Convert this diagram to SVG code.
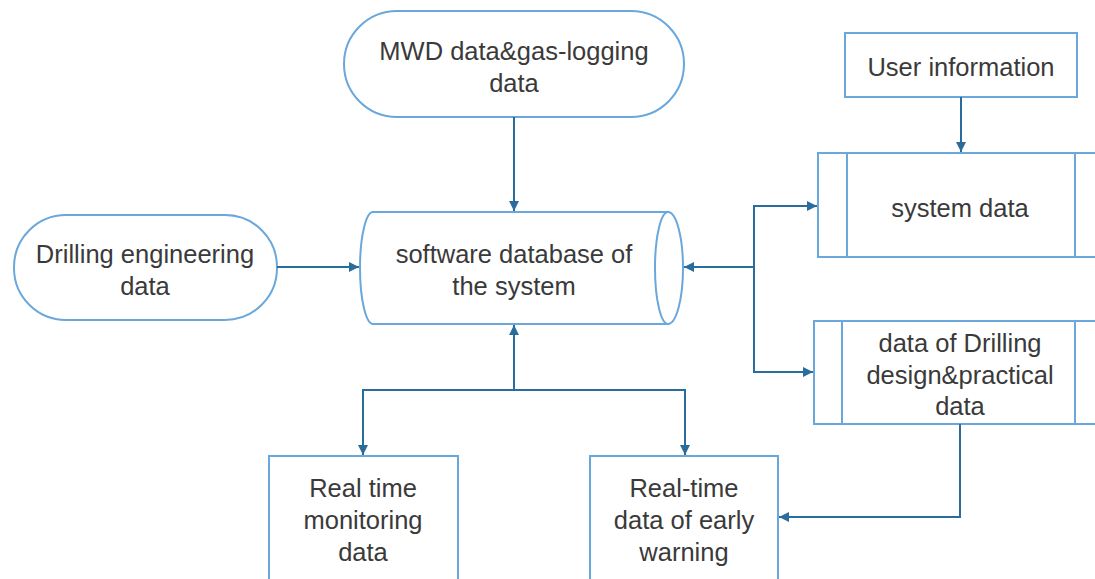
<svg xmlns="http://www.w3.org/2000/svg" width="1095" height="579" viewBox="0 0 1095 579">
  <defs>
    <marker id="arrow" viewBox="0 0 10 10" refX="10" refY="5" markerWidth="10" markerHeight="10" markerUnits="userSpaceOnUse" orient="auto">
      <path d="M0,0 L10,5 L0,10 Z" fill="#2a6d9c"/>
    </marker>
    <style>
      .node { fill: #ffffff; stroke: #6aa7dc; stroke-width: 2; }
      .conn { fill: none; stroke: #2a6d9c; stroke-width: 2; }
      .label { font-family: "Liberation Sans", Arial, sans-serif; font-size: 25.5px; fill: #3a3a3a; text-anchor: middle; }
    </style>
  </defs>
  <rect width="1095" height="579" fill="#ffffff"/>

  <g id="mwd-data">
    <rect class="node" x="344" y="11" width="340" height="106" rx="53" ry="53"/>
    <text class="label" x="514" y="60">MWD data&amp;gas-logging</text>
    <text class="label" x="514" y="92">data</text>
  </g>

  <g id="drilling-engineering">
    <rect class="node" x="14" y="215" width="263" height="105" rx="52" ry="52"/>
    <text class="label" x="145" y="263">Drilling engineering</text>
    <text class="label" x="145" y="295">data</text>
  </g>

  <g id="software-database">
    <path class="node" d="M373,212 L668,212 A15,56 0 0 1 668,324 L373,324 A13,56 0 0 1 373,212 Z"/>
    <path class="node" d="M668,212 A13,56 0 0 0 668,324" fill="none"/>
    <text class="label" x="514" y="263">software database of</text>
    <text class="label" x="514" y="295">the system</text>
  </g>

  <g id="user-information">
    <rect class="node" x="845" y="33" width="232" height="64"/>
    <text class="label" x="961" y="76">User information</text>
  </g>

  <g id="system-data">
    <rect class="node" x="818" y="153" width="290" height="104"/>
    <line class="node" x1="847" y1="153" x2="847" y2="257"/>
    <line class="node" x1="1075" y1="153" x2="1075" y2="257"/>
    <text class="label" x="960" y="217">system data</text>
  </g>

  <g id="drilling-design">
    <rect class="node" x="814" y="321" width="294" height="103"/>
    <line class="node" x1="842" y1="321" x2="842" y2="424"/>
    <line class="node" x1="1075" y1="321" x2="1075" y2="424"/>
    <text class="label" x="960" y="352">data of Drilling</text>
    <text class="label" x="960" y="384">design&amp;practical</text>
    <text class="label" x="960" y="415">data</text>
  </g>

  <g id="realtime-monitoring">
    <rect class="node" x="269" y="456" width="189" height="140"/>
    <text class="label" x="363" y="497">Real time</text>
    <text class="label" x="363" y="529">monitoring</text>
    <text class="label" x="363" y="561">data</text>
  </g>

  <g id="early-warning">
    <rect class="node" x="590" y="456" width="188" height="140"/>
    <text class="label" x="684" y="497">Real-time</text>
    <text class="label" x="684" y="529">data of early</text>
    <text class="label" x="684" y="561">warning</text>
  </g>

  <g id="connectors">
    <path class="conn" d="M514,117 L514,211" marker-end="url(#arrow)"/>
    <path class="conn" d="M277,267 L359,267" marker-end="url(#arrow)"/>
    <path class="conn" d="M514,390 L514,325" marker-end="url(#arrow)"/>
    <path class="conn" d="M514,390 L363,390 L363,455" marker-end="url(#arrow)"/>
    <path class="conn" d="M514,390 L685,390 L685,455" marker-end="url(#arrow)"/>
    <path class="conn" d="M754,267 L684,267" marker-end="url(#arrow)"/>
    <path class="conn" d="M754,267 L754,206 L817,206" marker-end="url(#arrow)"/>
    <path class="conn" d="M754,267 L754,372 L813,372" marker-end="url(#arrow)"/>
    <path class="conn" d="M961,97 L961,152" marker-end="url(#arrow)"/>
    <path class="conn" d="M960,424 L960,517 L779,517" marker-end="url(#arrow)"/>
  </g>
</svg>
